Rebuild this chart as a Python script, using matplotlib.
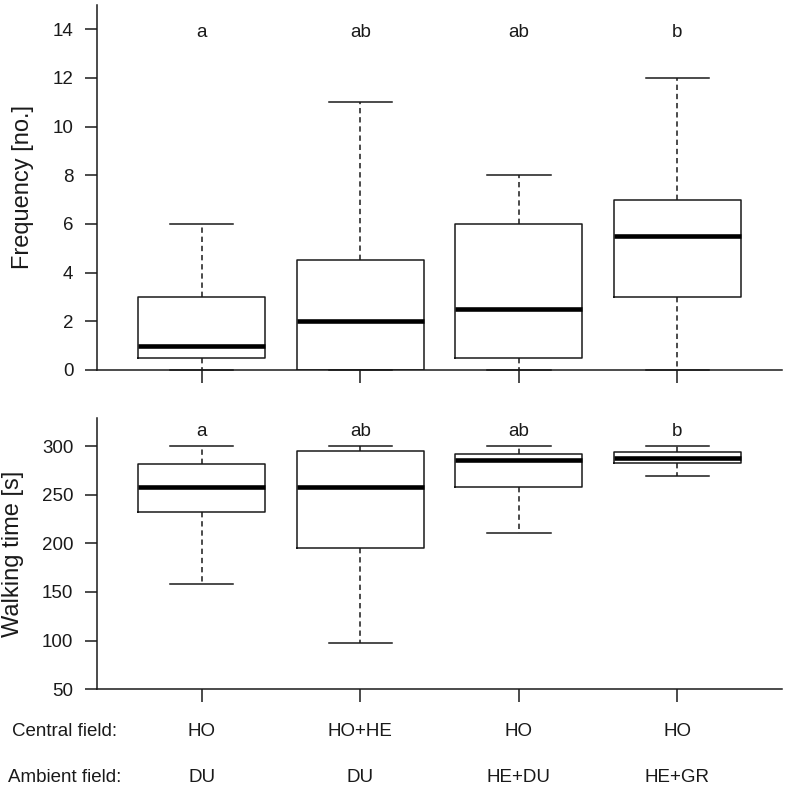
import matplotlib

matplotlib.use("Agg")

import matplotlib.pyplot as plt
import matplotlib.transforms as mtransforms

plt.rcParams["font.family"] = ["Liberation Sans", "DejaVu Sans"]

# ---------------------------------------------------------------------------
#  data  ---------------------------------------------------------------------
# ---------------------------------------------------------------------------
central_field = ["HO", "HO+HE", "HO", "HO"]
ambient_field = ["DU", "DU", "HE+DU", "HE+GR"]
letters = ["a", "ab", "ab", "b"]

# frequency [no.]: lower whisker, q1, median, q3, upper whisker
freq_low = [0, 0, 0, 0]
freq_q1 = [0.5, 0, 0.5, 3]
freq_med = [1, 2, 2.5, 5.5]
freq_q3 = [3, 4.5, 6, 7]
freq_high = [6, 11, 8, 12]

# walking time [s]
walk_low = [158, 97, 211, 270]
walk_q1 = [232, 195, 258, 282.5]
walk_med = [258, 258, 286, 288.5]
walk_q3 = [282, 295, 292.5, 294]
walk_high = [300, 300, 300, 300]


def make_stats(low, q1, med, q3, high):
    return [
        {"whislo": a, "q1": b, "med": c, "q3": d, "whishi": e, "fliers": []}
        for a, b, c, d, e in zip(low, q1, med, q3, high)
    ]


def r_boxes(ax, stats):
    art = ax.bxp(
        stats,
        positions=range(1, len(stats) + 1),
        widths=0.8,
        capwidths=0.4,
        showfliers=False,
        boxprops=dict(color="#1a1a1a", linewidth=1.1),
        medianprops=dict(color="black", linewidth=3.3, solid_capstyle="butt"),
        whiskerprops=dict(color="#1a1a1a", linewidth=1.1, linestyle=(0, (3.5, 2.5))),
        capprops=dict(color="#1a1a1a", linewidth=1.1),
    )
    for key in ("caps", "whiskers"):
        for a in art[key]:
            a.set_clip_on(False)


def r_axes(ax, ylim, yticks):
    ax.set_xlim(0.34, 4.66)
    ax.set_ylim(*ylim)
    ax.set_yticks(yticks)
    ax.set_xticks(range(1, 5))
    ax.set_xticklabels([])
    for s in ("top", "right"):
        ax.spines[s].set_visible(False)
    for s in ("left", "bottom"):
        ax.spines[s].set_linewidth(1.1)
        ax.spines[s].set_color("#1a1a1a")
    ax.tick_params(axis="both", direction="out", length=9, width=1.1,
                   color="#1a1a1a", labelsize=13.5, labelcolor="#1a1a1a")
    ax.tick_params(axis="y", pad=8)


fig = plt.figure(figsize=(7.87, 7.87), dpi=100)
ax1 = fig.add_axes([0.1233, 0.5299, 0.8704, 0.4638])
ax2 = fig.add_axes([0.1233, 0.1245, 0.8704, 0.3440])

# ---------------------------------------------------------------------------
#  top panel: frequency  -----------------------------------------------------
# ---------------------------------------------------------------------------
r_boxes(ax1, make_stats(freq_low, freq_q1, freq_med, freq_q3, freq_high))
r_axes(ax1, (0, 15), range(0, 15, 2))
ax1.set_ylabel("Frequency [no.]", fontsize=17, color="#1a1a1a", labelpad=13)
for i, lab in enumerate(letters):
    ax1.text(i + 1, 13.7, lab, ha="center", va="baseline", fontsize=13.5, color="#1a1a1a")

# ---------------------------------------------------------------------------
#  bottom panel: walking time  -----------------------------------------------
# ---------------------------------------------------------------------------
r_boxes(ax2, make_stats(walk_low, walk_q1, walk_med, walk_q3, walk_high))
r_axes(ax2, (50, 329), range(50, 301, 50))
ax2.set_ylabel("Walking time [s]", fontsize=17, color="#1a1a1a", labelpad=13)
for i, lab in enumerate(letters):
    ax2.text(i + 1, 311, lab, ha="center", va="baseline", fontsize=13.5, color="#1a1a1a")

# group descriptions under the lower panel
trans = mtransforms.blended_transform_factory(ax2.transData, fig.transFigure)
fig.text(0.0826, 0.0648, "Central field:", ha="center", va="baseline",
         fontsize=13.5, color="#1a1a1a")
fig.text(0.0826, 0.0064, "Ambient field:", ha="center", va="baseline",
         fontsize=13.5, color="#1a1a1a")
for i, (c, a) in enumerate(zip(central_field, ambient_field)):
    ax2.text(i + 1, 0.0648, c, transform=trans, ha="center", va="baseline",
             fontsize=13.5, color="#1a1a1a")
    ax2.text(i + 1, 0.0064, a, transform=trans, ha="center", va="baseline",
             fontsize=13.5, color="#1a1a1a")

fig.savefig("out.png", dpi=100)
